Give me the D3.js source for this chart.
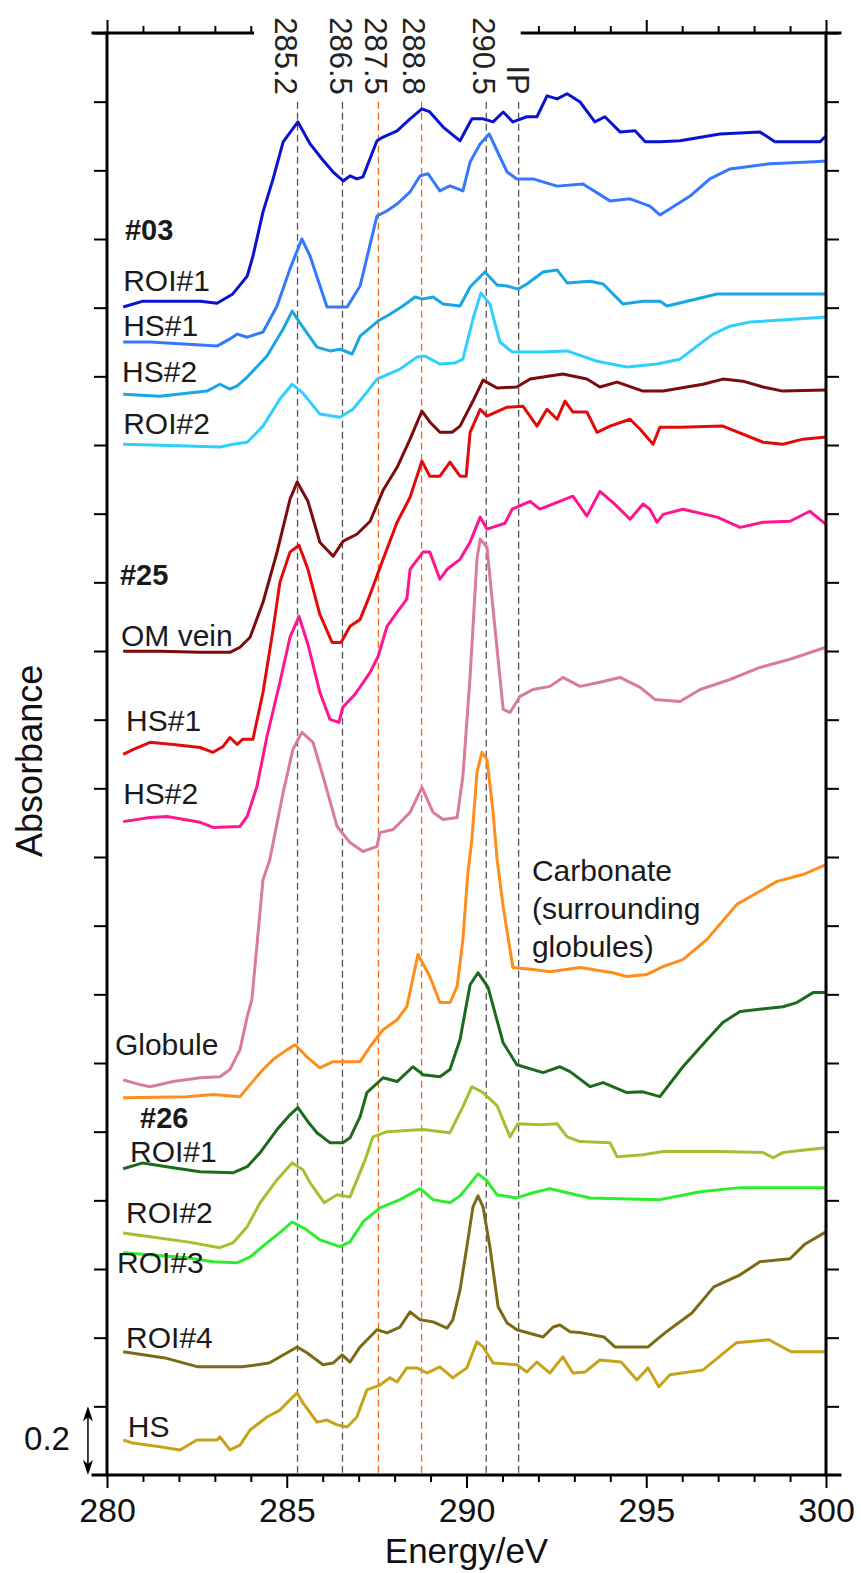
<!DOCTYPE html>
<html>
<head>
<meta charset="utf-8">
<script src="https://cdn.jsdelivr.net/npm/d3@7"></script>
<style>
body { margin: 0; background: #fff; }
svg { display: block; font-family: "Liberation Sans", Arial, sans-serif; }
</style>
</head>
<body>
<div id="chart"></div>
<script>
//////////////////////////////////////////////
// data: [energy eV, absorbance incl. offset]
//////////////////////////////////////////////

// #03
var roi1_03 = [[280.45,3.402],[281.0,3.419],[282.6,3.419],[283.06,3.413],[283.5,3.44],[283.9,3.492],[284.06,3.55],[284.34,3.679],[284.62,3.775],[284.9,3.883],[285.31,3.941],[285.65,3.877],[285.98,3.833],[286.29,3.795],[286.57,3.769],[286.76,3.784],[286.95,3.775],[287.12,3.781],[287.51,3.886],[287.68,3.897],[288.07,3.915],[288.43,3.95],[288.76,3.979],[288.98,3.97],[289.35,3.926],[289.82,3.886],[290.15,3.95],[290.46,3.95],[290.74,3.941],[291.02,3.97],[291.29,3.941],[291.68,3.956],[291.96,3.956],[292.24,4.017],[292.52,4.008],[292.8,4.023],[293.16,3.999],[293.57,3.941],[293.85,3.956],[294.27,3.912],[294.69,3.915],[294.97,3.883],[295.38,3.883],[295.94,3.886],[297.05,3.906],[298.16,3.912],[298.58,3.883],[299.83,3.883],[300.0,3.9]];
var hs1_03 = [[280.45,3.3],[281.2,3.3],[283.06,3.288],[283.42,3.309],[283.62,3.323],[283.9,3.314],[284.34,3.329],[284.73,3.405],[285.09,3.513],[285.42,3.6],[285.65,3.55],[286.12,3.402],[286.68,3.402],[287.04,3.463],[287.32,3.585],[287.51,3.667],[287.79,3.682],[288.07,3.702],[288.43,3.737],[288.71,3.784],[288.93,3.79],[289.26,3.74],[289.54,3.755],[289.9,3.74],[290.1,3.824],[290.38,3.877],[290.63,3.906],[290.85,3.857],[291.13,3.795],[291.4,3.775],[291.85,3.775],[292.52,3.754],[293.24,3.76],[293.99,3.711],[294.55,3.717],[295.1,3.696],[295.38,3.67],[295.66,3.688],[296.22,3.725],[296.77,3.775],[297.33,3.804],[298.44,3.819],[299.69,3.825],[300.0,3.827]];
var hs2_03 = [[280.45,3.148],[281.47,3.142],[282.78,3.157],[283.14,3.177],[283.42,3.163],[283.62,3.172],[283.9,3.198],[284.45,3.259],[284.9,3.338],[285.15,3.39],[285.45,3.343],[285.84,3.285],[286.2,3.274],[286.48,3.279],[286.82,3.265],[287.04,3.317],[287.54,3.361],[287.87,3.381],[288.23,3.405],[288.57,3.431],[288.79,3.425],[289.07,3.431],[289.35,3.411],[289.82,3.405],[290.1,3.46],[290.51,3.504],[290.85,3.466],[291.13,3.463],[291.43,3.454],[291.68,3.469],[292.13,3.504],[292.52,3.51],[292.8,3.472],[293.44,3.477],[293.8,3.469],[294.35,3.411],[294.91,3.419],[295.38,3.419],[295.58,3.405],[296.02,3.416],[296.97,3.44],[298.25,3.44],[300.0,3.44]];
var roi2_03 = [[280.45,3.002],[282.23,2.997],[283.14,2.994],[283.5,3.002],[283.9,3.008],[284.34,3.055],[284.81,3.134],[285.15,3.177],[285.45,3.151],[285.92,3.09],[286.48,3.081],[286.84,3.104],[287.23,3.154],[287.51,3.192],[288.15,3.221],[288.62,3.256],[288.85,3.259],[289.26,3.236],[289.68,3.239],[289.9,3.25],[290.18,3.367],[290.4,3.443],[290.65,3.411],[290.93,3.3],[291.27,3.271],[292.04,3.271],[292.8,3.274],[293.63,3.244],[294.46,3.227],[295.3,3.236],[295.94,3.25],[296.41,3.288],[296.86,3.323],[297.33,3.346],[297.89,3.358],[299.19,3.367],[300.0,3.373]];

// #25
var omVein_25 = [[280.45,2.399],[281.47,2.399],[282.59,2.396],[283.42,2.396],[283.7,2.411],[283.98,2.44],[284.34,2.542],[284.73,2.688],[285.09,2.842],[285.29,2.892],[285.59,2.836],[285.92,2.717],[286.29,2.676],[286.57,2.72],[286.95,2.74],[287.32,2.778],[287.68,2.868],[288.07,2.935],[288.43,3.017],[288.76,3.099],[288.98,3.067],[289.26,3.037],[289.6,3.037],[289.82,3.055],[290.18,3.128],[290.46,3.189],[290.85,3.166],[291.4,3.169],[291.77,3.192],[292.68,3.207],[293.35,3.192],[293.71,3.169],[294.19,3.183],[294.91,3.157],[295.47,3.157],[296.58,3.177],[297.13,3.192],[297.69,3.186],[298.25,3.169],[298.8,3.157],[300.0,3.16]];
var hs1_25 = [[280.45,2.099],[280.72,2.113],[281.2,2.134],[281.84,2.128],[282.59,2.119],[282.95,2.105],[283.23,2.122],[283.42,2.148],[283.62,2.128],[283.78,2.143],[284.06,2.143],[284.34,2.28],[284.62,2.463],[284.81,2.6],[285.09,2.688],[285.34,2.708],[285.59,2.638],[285.92,2.507],[286.26,2.425],[286.51,2.425],[286.76,2.472],[287.04,2.492],[287.32,2.565],[287.68,2.667],[288.07,2.775],[288.43,2.848],[288.76,2.953],[288.98,2.909],[289.26,2.909],[289.54,2.95],[289.82,2.909],[289.99,2.909],[290.1,3.037],[290.38,3.104],[290.57,3.084],[291.13,3.11],[291.57,3.113],[291.96,3.055],[292.24,3.104],[292.52,3.075],[292.74,3.128],[292.96,3.096],[293.35,3.096],[293.63,3.037],[293.99,3.055],[294.55,3.075],[294.83,3.046],[295.19,3.002],[295.38,3.052],[295.94,3.052],[297.13,3.055],[298.25,3.008],[298.8,3.002],[299.36,3.017],[300.0,3.023]];
var hs2_25 = [[280.45,1.903],[281.2,1.915],[281.67,1.918],[282.59,1.901],[282.95,1.886],[283.7,1.889],[283.9,1.918],[284.17,2.005],[284.45,2.151],[284.81,2.309],[285.09,2.44],[285.34,2.501],[285.59,2.419],[285.92,2.28],[286.2,2.201],[286.45,2.192],[286.56,2.236],[286.9,2.274],[287.32,2.338],[287.54,2.384],[287.79,2.472],[288.07,2.513],[288.34,2.551],[288.43,2.638],[288.79,2.688],[288.98,2.688],[289.26,2.609],[289.46,2.638],[289.82,2.667],[290.1,2.717],[290.38,2.79],[290.57,2.755],[291.07,2.772],[291.27,2.813],[291.77,2.836],[292.04,2.813],[292.52,2.833],[292.96,2.851],[293.35,2.793],[293.71,2.865],[294.07,2.833],[294.55,2.784],[294.91,2.828],[295.1,2.813],[295.3,2.775],[295.47,2.798],[296.02,2.813],[296.97,2.79],[297.61,2.76],[298.25,2.775],[299.0,2.778],[299.55,2.807],[300.0,2.769]];
var globule = [[280.45,1.151],[280.92,1.137],[281.2,1.131],[281.84,1.146],[282.59,1.157],[283.14,1.16],[283.42,1.181],[283.7,1.239],[283.9,1.335],[284.03,1.385],[284.34,1.734],[284.53,1.793],[284.9,1.988],[285.17,2.113],[285.42,2.163],[285.73,2.134],[286.01,2.035],[286.4,1.889],[286.76,1.842],[287.12,1.816],[287.51,1.831],[287.59,1.871],[287.96,1.88],[288.43,1.93],[288.76,2.003],[289.07,1.93],[289.35,1.909],[289.74,1.915],[289.9,2.035],[290.1,2.326],[290.29,2.667],[290.38,2.726],[290.57,2.702],[290.74,2.521],[291.02,2.23],[291.21,2.221],[291.49,2.268],[291.85,2.288],[292.32,2.297],[292.68,2.323],[293.16,2.297],[293.71,2.309],[294.27,2.323],[294.83,2.294],[295.24,2.259],[295.94,2.253],[296.5,2.288],[297.33,2.317],[298.16,2.352],[299.0,2.376],[300.0,2.411]];
var carbonate = [[280.45,1.099],[282.23,1.102],[282.95,1.108],[283.7,1.102],[283.98,1.137],[284.34,1.181],[284.62,1.21],[285.01,1.239],[285.23,1.253],[285.56,1.218],[285.92,1.186],[286.29,1.204],[287.04,1.204],[287.32,1.248],[287.68,1.297],[288.07,1.326],[288.34,1.364],[288.65,1.516],[288.98,1.452],[289.26,1.376],[289.54,1.376],[289.74,1.423],[289.9,1.56],[290.04,1.755],[290.15,1.851],[290.29,2.046],[290.43,2.105],[290.57,2.084],[290.74,1.93],[290.85,1.793],[291.02,1.656],[291.29,1.478],[291.85,1.472],[292.32,1.466],[293.16,1.478],[294.07,1.463],[294.46,1.452],[295.02,1.458],[295.47,1.481],[296.02,1.501],[296.69,1.56],[297.52,1.662],[298.64,1.729],[299.36,1.749],[300.0,1.778]];

// #26
var roi1_26 = [[280.45,0.892],[281.0,0.909],[281.84,0.895],[282.59,0.883],[283.5,0.88],[283.9,0.898],[284.26,0.939],[284.73,1.006],[285.09,1.049],[285.31,1.07],[285.59,1.029],[285.84,0.997],[286.2,0.968],[286.56,0.968],[286.76,0.982],[287.04,1.044],[287.23,1.114],[287.68,1.157],[288.07,1.146],[288.51,1.189],[288.79,1.166],[289.26,1.16],[289.54,1.181],[289.82,1.268],[290.1,1.428],[290.32,1.463],[290.6,1.42],[291.02,1.259],[291.4,1.195],[292.13,1.172],[292.6,1.189],[292.88,1.175],[293.44,1.131],[293.8,1.143],[294.46,1.114],[294.91,1.116],[295.38,1.102],[296.02,1.189],[296.69,1.268],[297.13,1.318],[297.61,1.35],[298.8,1.364],[299.19,1.376],[299.64,1.405],[300.0,1.405]];
var roi2_26 = [[280.45,0.705],[281.2,0.694],[282.23,0.679],[283.14,0.662],[283.5,0.676],[283.9,0.723],[284.26,0.793],[284.73,0.86],[285.15,0.909],[285.45,0.889],[285.65,0.851],[286.04,0.793],[286.4,0.816],[286.76,0.81],[287.18,0.918],[287.4,0.985],[287.79,1.0],[288.79,1.006],[289.54,0.997],[289.9,1.073],[290.15,1.131],[290.46,1.114],[290.85,1.076],[291.21,0.985],[291.43,1.023],[292.04,1.02],[292.52,1.023],[292.8,0.985],[293.16,0.971],[293.99,0.968],[294.19,0.927],[294.91,0.933],[295.47,0.942],[297.05,0.942],[298.25,0.939],[298.53,0.924],[298.8,0.939],[299.47,0.947],[300.0,0.953]];
var roi3_26 = [[280.45,0.647],[282.23,0.633],[282.95,0.621],[283.62,0.618],[283.98,0.635],[284.45,0.676],[284.9,0.714],[285.15,0.737],[285.51,0.717],[285.92,0.685],[286.48,0.665],[286.76,0.679],[287.12,0.737],[287.59,0.778],[288.15,0.802],[288.71,0.834],[289.07,0.802],[289.54,0.793],[289.82,0.813],[290.1,0.848],[290.32,0.877],[290.57,0.857],[290.85,0.816],[291.4,0.807],[291.85,0.822],[292.32,0.834],[292.8,0.822],[293.44,0.807],[295.38,0.802],[296.5,0.825],[297.61,0.837],[300.0,0.837]];
var roi4_26 = [[280.45,0.359],[281.61,0.341],[282.53,0.315],[283.76,0.315],[284.51,0.326],[285.01,0.356],[285.29,0.373],[285.56,0.356],[286.01,0.321],[286.29,0.326],[286.54,0.35],[286.76,0.329],[287.04,0.373],[287.51,0.423],[287.79,0.414],[288.15,0.431],[288.43,0.475],[288.71,0.452],[289.07,0.446],[289.46,0.428],[289.62,0.452],[289.82,0.539],[290.01,0.665],[290.18,0.781],[290.32,0.813],[290.46,0.781],[290.65,0.665],[290.88,0.49],[291.13,0.443],[291.4,0.423],[292.13,0.402],[292.41,0.431],[292.6,0.437],[292.88,0.417],[293.21,0.414],[293.82,0.402],[294.13,0.373],[295.05,0.373],[295.52,0.414],[296.27,0.472],[296.88,0.548],[297.61,0.583],[298.16,0.621],[299.0,0.63],[299.42,0.673],[300.0,0.708]];
var hs_26 = [[280.45,0.102],[280.72,0.093],[281.47,0.082],[282.03,0.073],[282.5,0.102],[283.06,0.102],[283.14,0.111],[283.42,0.073],[283.7,0.087],[283.98,0.131],[284.45,0.169],[284.81,0.189],[285.09,0.219],[285.29,0.239],[285.45,0.21],[285.84,0.154],[286.12,0.16],[286.4,0.146],[286.68,0.14],[286.95,0.169],[287.23,0.248],[287.59,0.262],[287.87,0.283],[288.07,0.271],[288.34,0.312],[288.62,0.312],[288.9,0.297],[289.26,0.315],[289.62,0.283],[290.01,0.312],[290.29,0.388],[290.46,0.373],[290.74,0.326],[291.4,0.321],[291.68,0.3],[291.96,0.329],[292.32,0.297],[292.68,0.344],[292.96,0.297],[293.3,0.3],[293.71,0.335],[294.3,0.329],[294.74,0.277],[295.05,0.312],[295.35,0.257],[295.66,0.292],[296.58,0.306],[297.5,0.385],[298.41,0.394],[299.03,0.359],[300.0,0.359]];

// peak markers
var peakE = [285.3, 286.55, 287.55, 288.75, 290.55, 291.45];
var peakText = ["285.2", "286.5", "287.5", "288.8", "290.5", "IP"];
var peakTextE = [284.98, 286.5, 287.48, 288.54, 290.49, 291.43];

// curve labels
var labelText = ["#03", "ROI#1", "HS#1", "HS#2", "ROI#2", "#25", "OM vein", "HS#1", "HS#2", "Globule", "#26", "ROI#1", "ROI#2", "ROI#3", "ROI#4", "HS"];
var labelE = [280.5, 280.45, 280.45, 280.42, 280.45, 280.36, 280.39, 280.53, 280.45, 280.22, 280.92, 280.64, 280.53, 280.28, 280.53, 280.58];
var labelV = [3.598, 3.449, 3.318, 3.184, 3.032, 2.592, 2.414, 2.166, 1.953, 1.224, 1.012, 0.913, 0.735, 0.589, 0.370, 0.111];

var carbText = ["Carbonate", "(surrounding", "globules)"];
var carbV = [1.729, 1.618, 1.510];

//////////////////////////////////////////////
// chart config
//////////////////////////////////////////////
var spectra = [
  {data: roi1_03, color: "#0a12d0"},
  {data: hs1_03, color: "#3478ff"},
  {data: hs2_03, color: "#1aa6e2"},
  {data: roi2_03, color: "#30d0fb"},
  {data: omVein_25, color: "#7c0b0b"},
  {data: hs1_25, color: "#e20a0a"},
  {data: hs2_25, color: "#ff168f"},
  {data: globule, color: "#d87b9c"},
  {data: carbonate, color: "#ff8d1c"},
  {data: roi1_26, color: "#1c6b1c"},
  {data: roi2_26, color: "#a0c232"},
  {data: roi3_26, color: "#2cee2c"},
  {data: roi4_26, color: "#7d6a16"},
  {data: hs_26, color: "#c9a317"}
];

var margin = {top: 33, right: 35, bottom: 98, left: 107};
var width = 861 - margin.left - margin.right,
    height = 1573 - margin.top - margin.bottom;

var x = d3.scaleLinear().domain([280, 300]).range([0, width]);
var y = d3.scaleLinear().domain([0, 4.2]).range([height, 0]);

var svg = d3.select("#chart").append("svg")
    .attr("width", 861)
    .attr("height", 1573);

var artboard = svg.append("g")
    .attr("transform", "translate(" + margin.left + "," + margin.top + ")");

// dashed peak lines
artboard.selectAll(".peak").data(peakE).enter().append("line")
    .attr("class", "peak")
    .attr("x1", function(d) { return x(d); })
    .attr("x2", function(d) { return x(d); })
    .attr("y1", y(4.0))
    .attr("y2", y(0))
    .attr("stroke", function(d, i) { return (i == 2 || i == 3) ? "#f26b1d" : "#555"; })
    .attr("stroke-width", 1.3)
    .attr("stroke-dasharray", "7,4");

artboard.selectAll(".peaklabel").data(peakText).enter().append("text")
    .attr("class", "peaklabel")
    .attr("transform", function(d, i) { return "translate(" + x(peakTextE[i]) + "," + y(4.02) + ") rotate(90)"; })
    .attr("text-anchor", "end")
    .attr("dy", "0.35em")
    .attr("font-size", "31px")
    .attr("fill", "#222")
    .text(function(d) { return d; });

// spectra
var line = d3.line()
    .x(function(d) { return x(d[0]); })
    .y(function(d) { return y(d[1]); });

artboard.selectAll(".trace").data(spectra).enter().append("path")
    .attr("class", "trace")
    .attr("d", function(d) { return line(d.data); })
    .style("fill", "none")
    .style("stroke", function(d) { return d.color; })
    .style("stroke-width", "3px")
    .style("stroke-linejoin", "round");

// axes (ticks only, lines drawn by hand so they can stick out)
function styleAxis(g) {
  g.select(".domain").remove();
  g.selectAll(".tick line").attr("stroke", "#000").attr("stroke-width", 2);
  g.selectAll(".tick text").attr("font-size", "34px").attr("fill", "#111").attr("font-family", "Liberation Sans, Arial, sans-serif");
}

var majorE = [280, 285, 290, 295, 300];
var minorE = d3.range(281, 300).filter(function(d) { return d % 5 != 0; });

artboard.append("g").attr("transform", "translate(0," + height + ")")
    .call(d3.axisBottom(x).tickValues(majorE).tickSize(13).tickPadding(10).tickFormat(d3.format("d")))
    .call(styleAxis);
artboard.append("g").attr("transform", "translate(0," + height + ")")
    .call(d3.axisBottom(x).tickValues(minorE).tickSize(7).tickFormat(""))
    .call(styleAxis);

// top axis has a gap for the peak labels
var topGap = [284.05, 291.55];
artboard.append("g")
    .call(d3.axisTop(x).tickValues(majorE.filter(function(d) { return d < topGap[0] || d > topGap[1]; })).tickSize(13).tickFormat(""))
    .call(styleAxis);
artboard.append("g")
    .call(d3.axisTop(x).tickValues(minorE.filter(function(d) { return d < topGap[0] || d > topGap[1]; })).tickSize(7).tickFormat(""))
    .call(styleAxis);

var yTicks = d3.range(1, 22).map(function(i) { return +(i * 0.2).toFixed(1); });
artboard.append("g")
    .call(d3.axisLeft(y).tickValues(yTicks).tickSize(13).tickFormat(""))
    .call(styleAxis);
artboard.append("g").attr("transform", "translate(" + width + ",0)")
    .call(d3.axisRight(y).tickValues(yTicks).tickSize(13).tickFormat(""))
    .call(styleAxis);

var frame = [
  [0, 0, 0, height],
  [width, 0, width, height],
  [-14, height, width + 14, height],
  [-14, 0, x(topGap[0]), 0],
  [x(topGap[1]), 0, width + 14, 0]
];
artboard.selectAll(".frame").data(frame).enter().append("line")
    .attr("x1", function(d) { return d[0]; })
    .attr("y1", function(d) { return d[1]; })
    .attr("x2", function(d) { return d[2]; })
    .attr("y2", function(d) { return d[3]; })
    .attr("stroke", "#000")
    .attr("stroke-width", 3)
    .attr("stroke-linecap", "square");

// axis titles
artboard.append("text")
    .attr("x", width / 2)
    .attr("y", height + 88)
    .attr("text-anchor", "middle")
    .attr("font-size", "35px")
    .attr("fill", "#111")
    .text("Energy/eV");

artboard.append("text")
    .attr("transform", "translate(-65," + y(2.08) + ") rotate(-90)")
    .attr("text-anchor", "middle")
    .attr("font-size", "36px")
    .attr("fill", "#111")
    .text("Absorbance");

// curve labels
artboard.selectAll(".label").data(labelText).enter().append("text")
    .attr("class", "label")
    .attr("x", function(d, i) { return x(labelE[i]); })
    .attr("y", function(d, i) { return y(labelV[i]); })
    .attr("font-size", function(d) { return d.charAt(0) == "#" ? "29px" : "30px"; })
    .attr("font-weight", function(d) { return d.charAt(0) == "#" ? "bold" : "normal"; })
    .attr("fill", "#1a1a1a")
    .text(function(d) { return d; });

artboard.selectAll(".carb").data(carbText).enter().append("text")
    .attr("class", "carb")
    .attr("x", x(291.82))
    .attr("y", function(d, i) { return y(carbV[i]); })
    .attr("font-size", "30px")
    .attr("fill", "#1a1a1a")
    .text(function(d) { return d; });

// 0.2 scale bar
var barX = x(279.47);
artboard.append("line")
    .attr("x1", barX).attr("x2", barX)
    .attr("y1", y(0.2) + 4).attr("y2", y(0) - 4)
    .attr("stroke", "#000").attr("stroke-width", 1.5);
artboard.append("path")
    .attr("d", "M" + barX + "," + y(0.2) + "l-5,15l5,-4l5,4z" +
               "M" + barX + "," + y(0) + "l-5,-15l5,4l5,-4z")
    .attr("fill", "#000");
artboard.append("text")
    .attr("x", barX - 18)
    .attr("y", y(0.073))
    .attr("text-anchor", "end")
    .attr("font-size", "33px")
    .attr("fill", "#111")
    .text("0.2");
</script>
</body>
</html>
